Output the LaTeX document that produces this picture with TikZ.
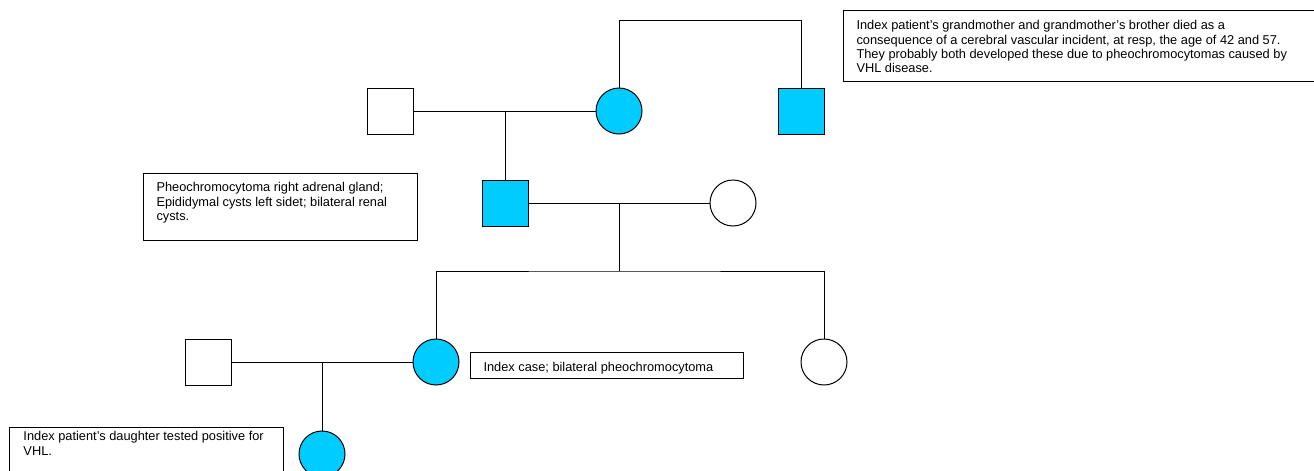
\documentclass[tikz,border=0pt]{standalone}
\usepackage{fontspec}
\setmainfont{Liberation Sans}
\tikzset{every picture/.style={line width=0.75pt}}
\definecolor{affected}{RGB}{0,204,255}
\tikzset{
  male/.style={draw, rectangle, minimum size=34.5pt, inner sep=0pt},
  female/.style={draw, circle, minimum size=34.5pt, inner sep=0pt},
  affect/.style={fill=affected},
  notetext/.style={anchor=north west, inner sep=0pt, align=left, font=\fontsize{9.6}{10.7}\selectfont}
}

\begin{document}
\begin{tikzpicture}[x=0.75pt,y=0.75pt,yscale=-1,xscale=1]
        \clip (0,0) rectangle (1314,471);

        % First generation
        \node (grandfa) [male] at (390,111) {};
        \node (grandma) [female, affect] at (619,111) {};
        \node (granduncle) [male, affect] at (801,111) {};
        \coordinate (sibtop) at (801,20);
        \draw (grandma) |- (sibtop) -- (granduncle);
        \draw (grandfa) -- (grandma);

        % Second generation
        \coordinate (mate1) at (505,111);
        \node (father) [male, affect] at (505,203) {};
        \node (mother) [female] at (733,203) {};
        \draw (mate1) -- (father);
        \draw (father) -- (mother);
        \coordinate (mate2) at (619,203);
        \coordinate (sibline) at (619,271);
        \draw (mate2) -- (sibline);

        % Third generation
        \node (index) [female, affect] at (436,362) {};
        \node (sister) [female] at (824,362) {};
        \draw (index) |- (sibline) -| (sister);
        \node (husband) [male] at (208,362) {};
        \draw (husband) -- (index);

        % Fourth generation
        \coordinate (mate3) at (322,362);
        \node (daughter) [female, affect] at (322,454) {};
        \draw (mate3) -- (daughter);

        % Notes
        \draw (843,10) rectangle (1330,81);
        \node (grandnote) [notetext] at (856,20) {Index patient’s grandmother and grandmother’s brother died as a\\consequence of a cerebral vascular incident, at resp, the age of 42 and 57.\\They probably both developed these due to pheochromocytomas caused by\\VHL disease.};
        \draw (143,173) rectangle (417,240);
        \node (fathernote) [notetext] at (156,182) {Pheochromocytoma right adrenal gland;\\Epididymal cysts left sidet; bilateral renal\\cysts.};
        \draw (470,352) rectangle (743,378);
        \node (indexnote) [notetext] at (483,362) {Index case; bilateral pheochromocytoma};
        \draw (9,427) rectangle (283,480);
        \node (daughternote) [notetext] at (23,431) {Index patient’s daughter tested positive for\\VHL.};

\end{tikzpicture}
\end{document}
